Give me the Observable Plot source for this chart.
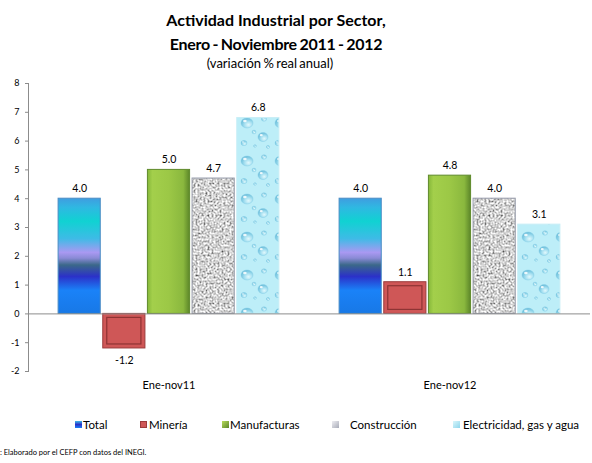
<!DOCTYPE html>
<html>
<head>
<meta charset="utf-8">
<script src="https://cdn.jsdelivr.net/npm/d3@7"></script>
<script src="https://cdn.jsdelivr.net/npm/@observablehq/plot@0.6"></script>
<style>
  html, body { margin: 0; padding: 0; background: #fff; }
  body { width: 592px; height: 463px; overflow: hidden; font-family: Lato, "Open Sans", sans-serif; color: #000; position: relative; }
  #title { height: 75px; box-sizing: border-box; padding-top: 8px; width: 552px; text-align: center; }
  #title .t { font-weight: bold; font-size: 16px; line-height: 24px; }
  #title .t2 { word-spacing: -1px; letter-spacing: -0.3px; }
  #title .s { font-size: 13px; line-height: 14px; word-spacing: -1px; padding-right: 12px; }
  #chart { height: 326px; }
  #legend { position: absolute; top: 418px; left: 0; width: 592px; height: 14px; font-size: 11.5px; line-height: 14px; }
  #legend .sw { position: absolute; top: 3px; width: 7px; height: 7px; box-sizing: border-box; }
  #legend .lb { position: absolute; top: 0; white-space: nowrap; }
  #foot { position: absolute; top: 449px; left: 0; font-size: 7.5px; line-height: 8px; white-space: nowrap; }
</style>
</head>
<body>
<div id="title">
  <div class="t">Actividad Industrial por Sector,</div>
  <div class="t t2">Enero - Noviembre 2011 - 2012</div>
  <div class="s">(variación % real anual)</div>
</div>
<div id="chart"></div>
<div id="legend"></div>
<div id="foot">: Elaborado por el CEFP con datos del INEGI.</div>
<script>
const periods = ["Ene-nov11", "Ene-nov12"];
const sectors = ["Total", "Minería", "Manufacturas", "Construcción", "Electricidad, gas y agua"];
const values2011 = [4.0, -1.2, 5.0, 4.7, 6.8];
const values2012 = [4.0, 1.1, 4.8, 4.0, 3.1];
const yTicks = [-2, -1, 0, 1, 2, 3, 4, 5, 6, 7, 8];

const seriesByPeriod = [values2011, values2012];
const data = periods.flatMap((p, i) => sectors.map((s, j) => ({period: p, sector: s, value: seriesByPeriod[i][j]})));

const fills = {
  "Total": "url(#gTotal)",
  "Minería": "#cf5757",
  "Manufacturas": "url(#gManuf)",
  "Construcción": "url(#pGranite)",
  "Electricidad, gas y agua": "url(#pWater)"
};
const strokes = {
  "Total": "#4a8cc4",
  "Minería": "#9c3b3b",
  "Manufacturas": "#5f8a2c",
  "Construcción": "#9499a8",
  "Electricidad, gas y agua": "#c8eef6"
};

const barMarks = sectors.map(s => Plot.barY(data.filter(d => d.sector === s), {
  fx: "period", x: "sector", y: "value",
  fill: fills[s], stroke: strokes[s], strokeWidth: 1
}));

const svg = Plot.plot({
  width: 592,
  height: 326,
  marginLeft: 28,
  marginRight: 2,
  marginTop: 8,
  marginBottom: 30,
  style: {fontFamily: "Lato, 'Open Sans', sans-serif", background: "#fff"},
  fx: {domain: periods, padding: 0, round: false, label: null},
  x: {domain: sectors, paddingInner: 0.056, paddingOuter: 0.674, round: false, axis: null},
  y: {domain: [-2, 8], label: null},
  marks: [
    ...barMarks,
    Plot.barY(data.filter(d => d.sector === "Minería"), {
      fx: "period", x: "sector", y: "value",
      fill: "none", stroke: "#8e3434", strokeWidth: 1.2, inset: 4
    }),
    Plot.ruleY([0], {stroke: "#8c8c8c", strokeWidth: 1}),
    Plot.text(data.filter(d => d.value >= 0), {
      fx: "period", x: "sector", y: "value", text: d => d.value.toFixed(1),
      dy: -10, fontSize: 10.5, fill: "#000"
    }),
    Plot.text(data.filter(d => d.value < 0), {
      fx: "period", x: "sector", y: "value", text: d => d.value.toFixed(1),
      dy: 12, fontSize: 10.5, fill: "#000"
    }),
    Plot.axisY({ticks: yTicks, tickFormat: d => String(d), tickSize: 3, tickPadding: 6, fontSize: 9, stroke: "#8c8c8c"}),
    Plot.frame({anchor: "left", stroke: "#8c8c8c", facetAnchor: "left"}),
    Plot.axisFx({anchor: "bottom", tickSize: 0, tickPadding: 10, fontSize: 11, label: null})
  ]
});

const defs = d3.select(svg).insert("defs", ":first-child");
// Total gradient
const gT = defs.append("linearGradient").attr("id", "gTotal").attr("x1", 0).attr("y1", 0).attr("x2", 0).attr("y2", 1);
[[0, "#3f9de0"], [0.08, "#2fb8e2"], [0.2, "#10d2d2"], [0.35, "#3ebbe6"], [0.47, "#a999f2"], [0.52, "#8a8ad6"], [0.58, "#3b6889"], [0.68, "#2b31c9"], [0.8, "#1a82f8"], [1, "#1878e6"]]
  .forEach(([o, c]) => gT.append("stop").attr("offset", o).attr("stop-color", c));
// Manufacturas gradient
const gM = defs.append("linearGradient").attr("id", "gManuf").attr("x1", 0).attr("y1", 0).attr("x2", 1).attr("y2", 0);
[[0, "#86b83a"], [0.12, "#a3cf4b"], [0.5, "#9cc846"], [0.85, "#8ab83e"], [1, "#5c8629"]]
  .forEach(([o, c]) => gM.append("stop").attr("offset", o).attr("stop-color", c));
// Granite noise
const f = defs.append("filter").attr("id", "noise").attr("x", 0).attr("y", 0).attr("width", "100%").attr("height", "100%");
f.append("feTurbulence").attr("type", "fractalNoise").attr("baseFrequency", 0.5).attr("numOctaves", 3).attr("seed", 7);
f.append("feColorMatrix").attr("type", "saturate").attr("values", 0);
const ct = f.append("feComponentTransfer");
["feFuncR", "feFuncG", "feFuncB"].forEach(n => ct.append(n).attr("type", "linear").attr("slope", 2.3).attr("intercept", -0.5));
ct.append("feFuncA").attr("type", "linear").attr("slope", 0).attr("intercept", 1);
const pG = defs.append("pattern").attr("id", "pGranite").attr("patternUnits", "userSpaceOnUse").attr("width", 120).attr("height", 120);
pG.append("rect").attr("width", 120).attr("height", 120).attr("fill", "#a8a8a8");
pG.append("rect").attr("width", 120).attr("height", 120).attr("filter", "url(#noise)");
// Water drops
const pW = defs.append("pattern").attr("id", "pWater").attr("patternUnits", "userSpaceOnUse").attr("width", 34).attr("height", 38);
pW.append("rect").attr("width", 34).attr("height", 38).attr("fill", "#bdeef8");
const dg = defs.append("radialGradient").attr("id", "gDrop").attr("cx", 0.62).attr("cy", 0.68).attr("r", 0.62);
[[0, "#e2f9fd"], [0.55, "#a4dff0"], [1, "#6fc0dc"]].forEach(([o, c]) => dg.append("stop").attr("offset", o).attr("stop-color", c));
[[9, 10, 6, 5], [25, 24, 5, 4.5], [6, 30, 3, 2.6], [26, 6, 2.6, 2.2], [16, 19, 2, 1.8], [30, 34, 1.6, 1.4], [17, 33, 1.4, 1.2]].forEach(([cx, cy, rx, ry]) => {
  pW.append("ellipse").attr("cx", cx).attr("cy", cy).attr("rx", rx).attr("ry", ry).attr("fill", "url(#gDrop)").attr("stroke", "#86cfe6").attr("stroke-width", 0.5);
  pW.append("ellipse").attr("cx", cx - rx * 0.35).attr("cy", cy - ry * 0.4).attr("rx", rx * 0.3).attr("ry", ry * 0.25).attr("fill", "#ffffff").attr("opacity", 0.85);
});

document.getElementById("chart").appendChild(svg);

// Legend
const swatchCss = {
  "Total": "background: linear-gradient(#3ebbe6, #2b31c9, #1a82f8);",
  "Minería": "background: #cf5757; border: 1px solid #9c3b3b;",
  "Manufacturas": "background: linear-gradient(135deg, #b8dc5a, #5c8629);",
  "Construcción": "background: linear-gradient(135deg, #eeeef2, #a8abb8);",
  "Electricidad, gas y agua": "background: linear-gradient(135deg, #d9f6fb, #8fd6ec);"
};
const legendSwatchLeft = [75, 140, 222, 332, 453];
const legendTextLeft = [83, 149, 230, 350, 463];
const legend = d3.select("#legend");
sectors.forEach((s, i) => {
  legend.append("span").attr("class", "sw").attr("style", swatchCss[s] + `left:${legendSwatchLeft[i]}px;`);
  legend.append("span").attr("class", "lb").style("left", legendTextLeft[i] + "px").text(s);
});
</script>
</body>
</html>
